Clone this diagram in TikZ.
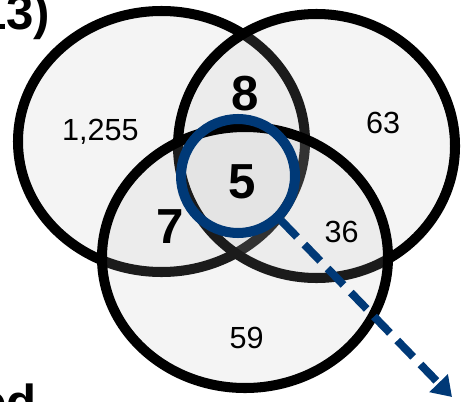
\documentclass[tikz,border=0pt]{standalone}
\usepackage{fontspec}
\setmainfont{Liberation Sans}
\usetikzlibrary{arrows.meta}
\definecolor{navyblue}{RGB}{0,57,119}
\tikzset{
  setring/.style={line width=5.7pt,draw=black,fill=black!28,fill opacity=0.15},
  count/.style={font=\fontsize{17.4}{20}\selectfont,anchor=base},
  bigcount/.style={font=\bfseries\fontsize{28}{32}\selectfont,anchor=base},
}
\begin{document}
\begin{tikzpicture}
  \useasboundingbox (0,0) rectangle (9.22,8.02);
  \draw[setring] (3.23,5.19) ellipse (2.87 and 2.61);
  \draw[setring] (6.33,5.10) ellipse (2.77 and 2.64);
  \draw[setring] (4.90,2.87) ellipse (2.86 and 2.61);
  \node[circle,draw=navyblue,line width=5.7pt,minimum size=2.28cm,inner sep=0pt] (focus) at (4.76,4.50) {};
  \coordinate (tip) at (9.04,0.08);
  \draw[navyblue,line width=4.5pt,dash pattern=on 13pt off 6pt,-{Triangle[length=11pt,width=14pt]}] (focus) -- (tip);
  \node[count] (onlya) at (2.01,5.22) {1,255};
  \node[count] (onlyb) at (7.66,5.36) {63};
  \node[count] (onlyc) at (4.93,1.05) {59};
  \node[count] (bc) at (6.83,3.17) {36};
  \node[bigcount] (ab) at (4.90,5.81) {8};
  \node[bigcount] (abc) at (4.84,4.06) {5};
  \node[bigcount] (ac) at (3.40,3.16) {7};
  \node[bigcount,anchor=base east] (topnote) at (1.13,7.42) {13)};
  \node[bigcount,anchor=base east] (bottomnote) at (0.86,-0.36) {ed};
\end{tikzpicture}
\end{document}
